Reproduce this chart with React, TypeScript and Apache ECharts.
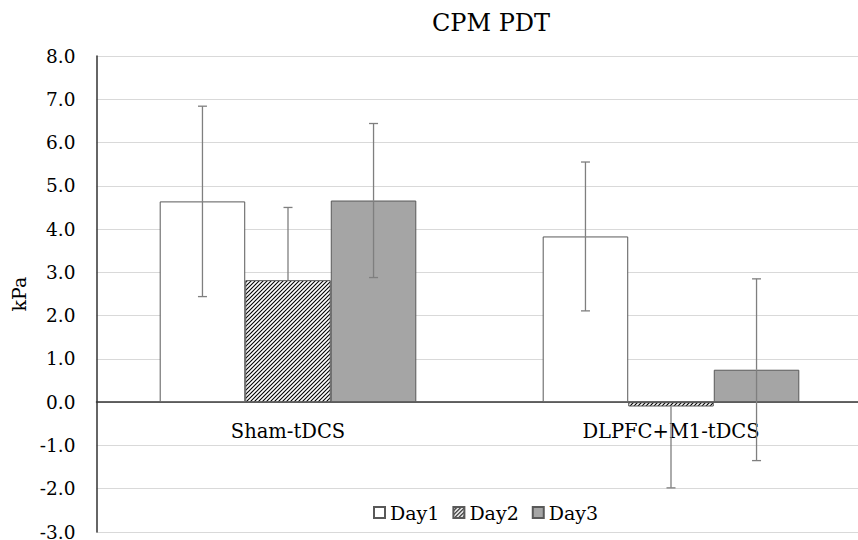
import React, { useEffect, useRef } from "react";
import * as echarts from "echarts";

const categories = ["Sham-tDCS", "DLPFC+M1-tDCS"];
const seriesNames = ["Day1", "Day2", "Day3"];
const day1 = [4.64, 3.83];
const day2 = [2.82, -0.1];
const day3 = [4.66, 0.75];
const day1ErrPlus = [2.2, 1.72];
const day1ErrMinus = [2.2, 1.72];
const day2ErrPlus = [1.68, 0];
const day2ErrMinus = [0, 1.88];
const day3ErrPlus = [1.78, 2.1];
const day3ErrMinus = [1.78, 2.1];
const yTicks = { min: -3, max: 8, step: 1 };

const FONT = "DejaVu Serif";
const CAT_GAP = 0.33;
const GRID_TOP = 56;
const GRID_H = 476;

function makeHatch(): HTMLCanvasElement {
  const c = document.createElement("canvas");
  c.width = 4;
  c.height = 4;
  const ctx = c.getContext("2d")!;
  ctx.fillStyle = "#ffffff";
  ctx.fillRect(0, 0, 4, 4);
  ctx.strokeStyle = "#000000";
  ctx.lineWidth = 1.1;
  const segs = [
    [0, 4, 4, 0],
    [-2, 2, 2, -2],
    [2, 6, 6, 2],
  ];
  segs.forEach(([a, b, c2, d]) => {
    ctx.beginPath();
    ctx.moveTo(a, b);
    ctx.lineTo(c2, d);
    ctx.stroke();
  });
  return c;
}

export default function App() {
  const ref = useRef<HTMLDivElement>(null);
  useEffect(() => {
    if (!ref.current) return;
    const chart = echarts.init(ref.current, null, { renderer: "svg" });
    const hatch = makeHatch();
    const values = [day1, day2, day3];
    const plus = [day1ErrPlus, day2ErrPlus, day3ErrPlus];
    const minus = [day1ErrMinus, day2ErrMinus, day3ErrMinus];
    const fills: any[] = [
      "#ffffff",
      { image: hatch, repeat: "repeat" },
      "#a5a5a5",
    ];
    const zeroOffset = -(GRID_H * (0 - yTicks.min)) / (yTicks.max - yTicks.min);

    const barSeries = values.map((v, i) => ({
      name: seriesNames[i],
      type: "bar",
      data: v,
      barGap: "0%",
      barCategoryGap: `${CAT_GAP * 100}%`,
      itemStyle: { color: fills[i], borderColor: "#595959", borderWidth: 1 },
      z: 2,
    }));

    const errSeries = values.map((v, i) => ({
      type: "custom",
      name: seriesNames[i] + " err",
      z: 5,
      silent: true,
      data: v.map((val, k) => [k, val, plus[i][k], minus[i][k]]),
      encode: { x: 0, y: 1 },
      renderItem: (params: any, api: any) => {
        const cat = api.value(0);
        const val = api.value(1);
        const p = api.value(2);
        const m = api.value(3);
        const bandW = api.size([1, 0])[0];
        const barW = (bandW * (1 - CAT_GAP)) / 3;
        const x = api.coord([cat, val])[0] + (i - 1) * barW;
        const yMid = api.coord([cat, val])[1];
        const yTop = api.coord([cat, val + p])[1];
        const yBot = api.coord([cat, val - m])[1];
        const cap = 4.5;
        const style = { stroke: "#7f7f7f", lineWidth: 1.3 };
        const children: any[] = [];
        if (p > 0) {
          children.push({ type: "line", shape: { x1: x, y1: yMid, x2: x, y2: yTop }, style });
          children.push({ type: "line", shape: { x1: x - cap, y1: yTop, x2: x + cap, y2: yTop }, style });
        }
        if (m > 0) {
          children.push({ type: "line", shape: { x1: x, y1: yMid, x2: x, y2: yBot }, style });
          children.push({ type: "line", shape: { x1: x - cap, y1: yBot, x2: x + cap, y2: yBot }, style });
        }
        return { type: "group", children };
      },
    }));

    chart.setOption({
      animation: false,
      backgroundColor: "#ffffff",
      textStyle: { fontFamily: FONT },
      title: {
        text: "CPM PDT",
        left: 486,
        top: 6,
        textAlign: "center",
        textStyle: { fontFamily: FONT, fontSize: 24, fontWeight: "normal", color: "#000" },
      },
      legend: {
        data: seriesNames,
        left: 368,
        top: 498,
        itemWidth: 11,
        itemHeight: 11,
        itemGap: 13,
        icon: "rect",
        textStyle: { fontFamily: FONT, fontSize: 19, color: "#000" },
      },
      grid: {
        left: 96.5,
        top: GRID_TOP,
        width: 766,
        height: GRID_H,
        containLabel: false,
        outerBoundsMode: "none",
      },
      xAxis: {
        type: "category",
        data: categories,
        position: "bottom",
        offset: zeroOffset,
        axisLine: { onZero: false, lineStyle: { color: "#333333", width: 1.5 } },
        axisTick: { show: false },
        axisLabel: { fontFamily: FONT, fontSize: 19.5, color: "#000", margin: 19 },
      },
      yAxis: {
        type: "value",
        min: yTicks.min,
        max: yTicks.max,
        interval: yTicks.step,
        name: "kPa",
        nameLocation: "middle",
        nameGap: 68,
        nameTextStyle: { fontFamily: FONT, fontSize: 19, color: "#000" },
        axisLine: { show: true, lineStyle: { color: "#333333", width: 1.5 } },
        axisTick: { show: false },
        axisLabel: {
          fontFamily: FONT,
          fontSize: 18.5,
          color: "#000",
          margin: 21,
          formatter: (v: number) => v.toFixed(1),
        },
        splitLine: { lineStyle: { color: "#d9d9d9", width: 1 } },
      },
      series: [...barSeries, ...errSeries],
    });
    return () => chart.dispose();
  }, []);
  return <div ref={ref} style={{ width: 858, height: 540, position: "absolute", left: 0, top: 0 }} />;
}
